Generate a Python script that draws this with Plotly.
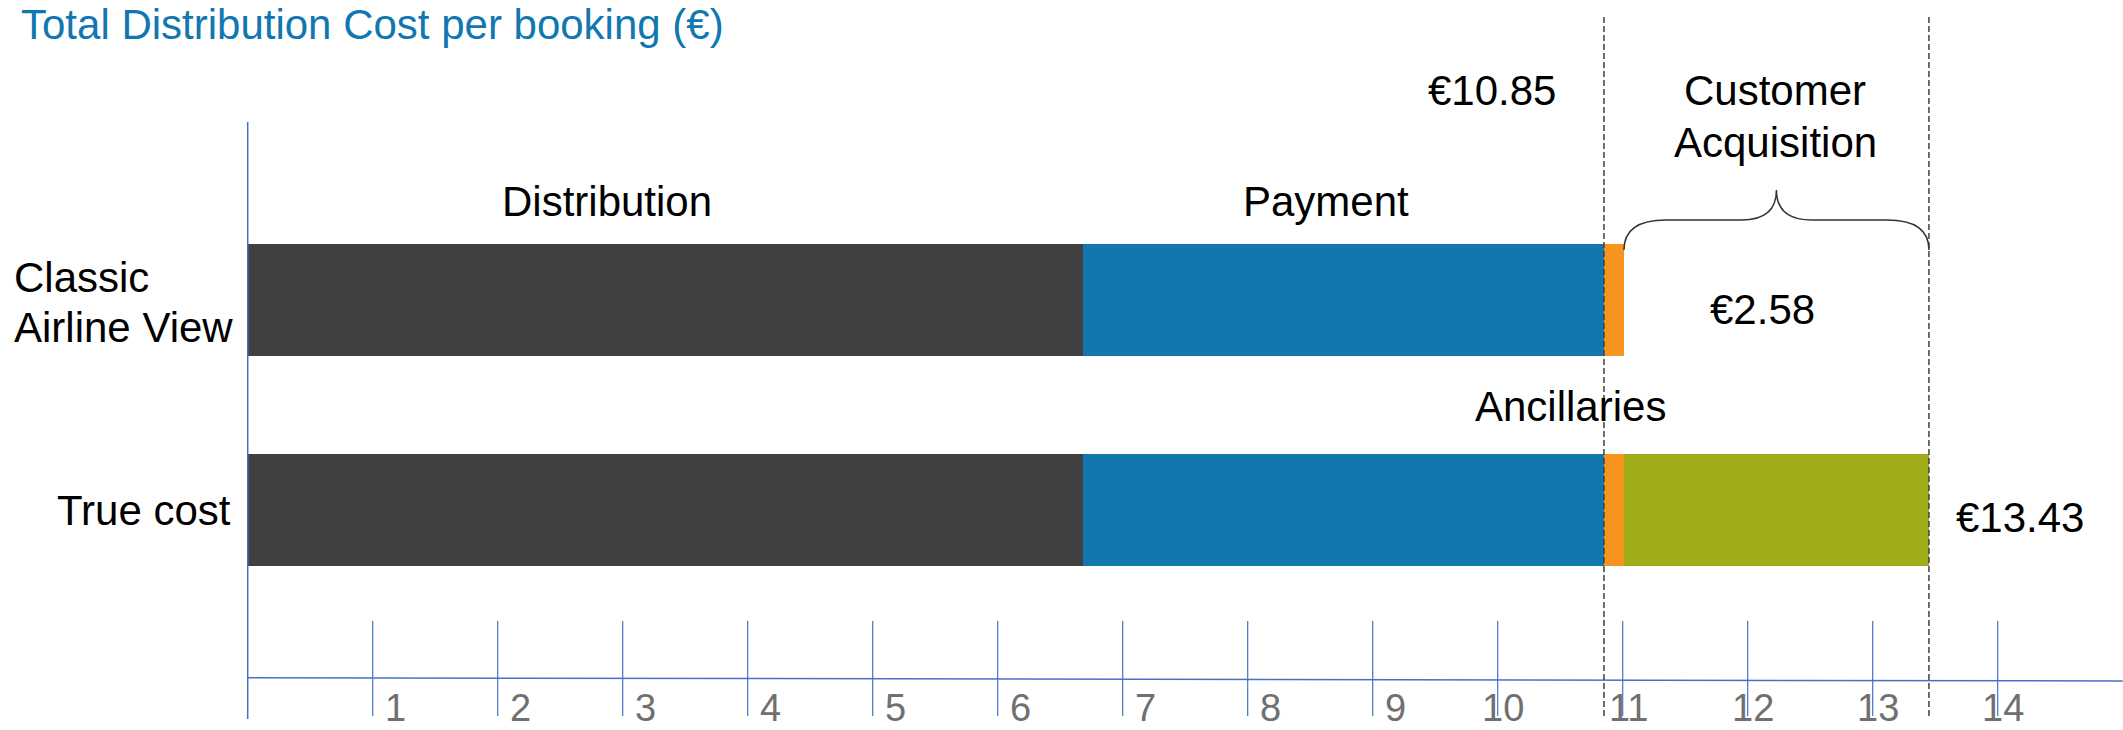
import plotly.graph_objects as go

# ---------------- data ----------------
categories = ["True cost", "Classic Airline View"]
distribution = [6.68, 6.68]
payment = [4.17, 4.17]
ancillaries = [0.16, 0.16]
customer_acquisition = [2.44, None]
tick_values = list(range(1, 15))
tick_labels = [str(v) for v in tick_values]
value_labels = ["€10.85", "€2.58", "€13.43"]
segment_names = ["Distribution", "Payment", "Ancillaries", "Customer Acquisition"]

colors = ["#404040", "#1177AE", "#F7941E", "#A0AC17"]

W, H = 2123, 730
FONT = "Liberation Sans, Arial, sans-serif"
NARROW = "Liberation Sans Narrow, Arial Narrow, Liberation Sans, Arial, sans-serif"

def px(x):
    return x / W

def py(y):
    return 1 - y / H

fig = go.Figure()
series = [distribution, payment, ancillaries, customer_acquisition]
for name, vals, col in zip(segment_names, series, colors):
    fig.add_trace(go.Bar(
        y=categories, x=vals, name=name, orientation="h",
        marker=dict(color=col, line=dict(width=0)), width=0.532,
        showlegend=False, hoverinfo="x+name",
    ))

classic_end = distribution[1] + payment[1]
anc_end = classic_end + ancillaries[1]
true_total = distribution[0] + payment[0] + ancillaries[0] + customer_acquisition[0]

shapes = []
axis_blue = "#4472C4"
# y axis line
shapes.append(dict(type="line", xref="x", yref="paper", x0=0, x1=0,
                   y0=py(719), y1=py(122), line=dict(color=axis_blue, width=1.5)))
# x axis line (slightly sloped as in the reference)
shapes.append(dict(type="line", xref="x", yref="paper", x0=0, x1=15.0,
                   y0=py(677.7), y1=py(681), line=dict(color=axis_blue, width=1.5)))
# tick marks
for t in tick_values:
    shapes.append(dict(type="line", xref="x", yref="paper", x0=t, x1=t,
                       y0=py(716), y1=py(621), line=dict(color=axis_blue, width=1.2)))
# dashed reference lines
for xv in [classic_end, true_total]:
    shapes.append(dict(type="line", xref="x", yref="paper", x0=xv, x1=xv,
                       y0=py(716), y1=py(14), line=dict(color="#404040", width=1.5, dash="6px,3px")))
# curly brace over customer acquisition
x1b, x2b = anc_end, true_total
mid = (x1b + x2b) / 2
r1, r2 = 0.336, 0.28
yb, yh, yt = py(250), py(220), py(190)
path = (f"M {x1b},{yb} Q {x1b},{yh} {x1b + r1},{yh} L {mid - r2},{yh} "
        f"Q {mid},{yh} {mid},{yt} Q {mid},{yh} {mid + r2},{yh} "
        f"L {x2b - r1},{yh} Q {x2b},{yh} {x2b},{yb}")
shapes.append(dict(type="path", xref="x", yref="paper", path=path,
                   line=dict(color="#333333", width=1.5)))

annotations = []

def label(text, x, y, size=42, color="#000000", xanchor="center", family=FONT, yanchor="middle"):
    annotations.append(dict(text=text, x=px(x), y=py(y), xref="paper", yref="paper",
                            xanchor=xanchor, yanchor=yanchor, showarrow=False, borderpad=0,
                            font=dict(family=family, size=size, color=color)))

label("Total Distribution Cost per booking (€)", 20, 0, size=42, color="#1177B0",
      xanchor="left", yanchor="top")
label("Distribution", 607, 202)
label("Payment", 1326, 202)
label(value_labels[0], 1492, 90)
label("Customer", 1775, 90)
label("Acquisition", 1775, 142.5)
label(value_labels[1], 1762, 309)
label("Ancillaries", 1570, 406)
label(value_labels[2], 2020, 517)
label("Classic", 13, 277.5, xanchor="left")
label("Airline View", 13, 327.5, xanchor="left")
label("True cost", 232, 511, xanchor="right")

# tick labels
for t, tl in zip(tick_values, tick_labels):
    off = 0.184 if len(tl) == 1 else 0.043
    annotations.append(dict(text=tl, x=t + off, y=0, xref="x", yref="paper",
                            xanchor="center", yanchor="bottom", showarrow=False, borderpad=0,
                            font=dict(family=NARROW, size=38, color="#707070")))

fig.update_layout(
    width=W, height=H,
    margin=dict(l=0, r=0, t=0, b=0, pad=0),
    paper_bgcolor="white", plot_bgcolor="white",
    barmode="stack", bargap=0,
    xaxis=dict(range=[-247.7 / 125, (W - 247.7) / 125], domain=[0, 1],
               showgrid=False, zeroline=False, showticklabels=False, showline=False, fixedrange=True),
    yaxis=dict(type="category", categoryorder="array", categoryarray=categories,
               range=[-1.043, 2.425], domain=[0, 1],
               showgrid=False, zeroline=False, showticklabels=False, showline=False, fixedrange=True),
    shapes=shapes, annotations=annotations, showlegend=False,
)

fig.write_html("out.html")
